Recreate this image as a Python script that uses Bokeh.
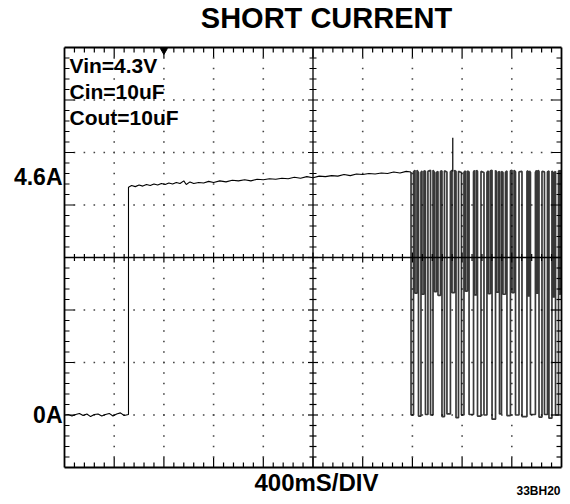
from bokeh.plotting import figure
from bokeh.models import Range1d, Label
from bokeh.embed import file_html
from bokeh.resources import INLINE

# ---------------- data (time in s, current in A) ----------------
t_pre = [0.00, 0.03, 0.06, 0.09, 0.12, 0.15, 0.18, 0.21, 0.24, 0.27, 0.30,
         0.33, 0.36, 0.39, 0.42, 0.45, 0.48, 0.515]
i_pre = [0.00, 0.01, -0.02, 0.01, 0.03, -0.01, 0.02, -0.03, 0.01, 0.02, -0.02,
         0.01, 0.03, -0.02, 0.02, 0.04, -0.01, 0.01]

t_rise = [0.515, 0.54, 0.57, 0.60, 0.63, 0.66, 0.69, 0.72, 0.75, 0.78, 0.81,
          0.84, 0.87, 0.90, 0.93, 0.96, 0.98, 1.01, 1.04, 1.08, 1.12, 1.16,
          1.20, 1.25, 1.30, 1.35, 1.40, 1.45, 1.50, 1.55, 1.60, 1.65, 1.70,
          1.75, 1.80, 1.85, 1.90, 1.95, 2.00, 2.05, 2.10, 2.15, 2.20, 2.25,
          2.30, 2.35, 2.40, 2.45, 2.50, 2.55, 2.60, 2.65, 2.70, 2.75, 2.789]
i_rise = [4.34, 4.37, 4.35, 4.38, 4.36, 4.39, 4.37, 4.40, 4.38, 4.41, 4.39,
          4.42, 4.40, 4.43, 4.41, 4.46, 4.39, 4.44, 4.41, 4.43, 4.42, 4.45,
          4.43, 4.46, 4.44, 4.47, 4.46, 4.48, 4.46, 4.49, 4.48, 4.50, 4.49,
          4.51, 4.50, 4.53, 4.51, 4.54, 4.52, 4.55, 4.54, 4.56, 4.55, 4.58,
          4.56, 4.59, 4.58, 4.60, 4.59, 4.61, 4.60, 4.63, 4.61, 4.64, 4.63]

# hiccup pulses: start time, width, bottom level, level before the pulse
pulse_t = [2.789, 2.821, 2.849, 2.877, 2.905, 2.946, 2.978, 3.006, 3.038,
           3.078, 3.119, 3.151, 3.195, 3.227, 3.256, 3.300, 3.324, 3.376,
           3.412, 3.441, 3.477, 3.501, 3.529, 3.561, 3.602, 3.630, 3.682,
           3.730, 3.750, 3.799, 3.819, 3.863, 3.899, 3.932, 3.952, 3.984]
pulse_w = [0.020, 0.016, 0.020, 0.016, 0.020, 0.020, 0.016, 0.020, 0.020,
           0.028, 0.020, 0.020, 0.020, 0.016, 0.036, 0.016, 0.028, 0.024,
           0.016, 0.028, 0.016, 0.016, 0.020, 0.028, 0.016, 0.028, 0.040,
           0.012, 0.040, 0.012, 0.024, 0.024, 0.024, 0.012, 0.024, 0.008]
pulse_low = [0.00, 2.32, -0.02, 2.30, 0.01, 0.00, 2.35, 2.28, -0.03,
             0.02, 2.33, -0.05, 0.00, 2.36, 0.01, 2.29, -0.02, 0.00,
             2.31, -0.08, 2.34, 0.02, 2.30, -0.01, 2.33, 0.00, -0.03,
             2.27, 0.01, 2.32, -0.04, 0.01, -0.06, 2.25, 0.00, 2.30]
pulse_top = [4.63, 4.66, 4.62, 4.65, 4.64, 4.66, 4.62, 4.64, 4.65,
             4.63, 4.66, 4.64, 4.62, 4.65, 4.63, 4.66, 4.64, 4.62,
             4.65, 4.66, 4.63, 4.64, 4.62, 4.65, 4.66, 4.63, 4.64,
             4.65, 4.62, 4.66, 4.64, 4.63, 4.65, 4.62, 4.64, 4.66]
spike_t = 3.125
spike_base = 4.64
spike_i = 5.28
end_t = 4.0
end_i = 4.64
trigger_t = 0.80

y_ticks = [0.0, 4.6]
y_tick_labels = ["0A", "4.6A"]
title_text = "SHORT CURRENT"
x_label = "400mS/DIV"
notes = ["Vin=4.3V", "Cin=10uF", "Cout=10uF"]
code_text = "33BH20"

# ---------------- layout ----------------
W, H = 570, 504
BOX_L, BOX_R, BOX_T, BOX_B = 64, 561, 47, 467     # graticule box in pixels
X0, X1, Y0, Y1 = 0.0, 4.0, -1.0, 7.0              # 10 div x 400 ms, 8 div x 1 A
XDIV, YDIV = 0.4, 1.0
px_x = (X1 - X0) / (BOX_R - BOX_L)
px_y = (Y1 - Y0) / (BOX_B - BOX_T)

p = figure(width=W, height=H, output_backend="svg", toolbar_location=None,
           x_range=Range1d(X0 - BOX_L * px_x, X1 + (W - BOX_R) * px_x),
           y_range=Range1d(Y0 - (H - BOX_B) * px_y, Y1 + BOX_T * px_y),
           x_axis_location=None, y_axis_location=None, min_border=0)
p.xgrid.visible = False
p.ygrid.visible = False
p.outline_line_color = None
p.background_fill_color = "white"
p.border_fill_color = "white"

# dotted graticule
dx, dy = [], []
for k in range(1, 10):
    if k == 5:
        continue
    xv = X0 + k * XDIV
    for m in range(1, 40):
        if m == 20:
            continue
        dx.append(xv); dy.append(Y0 + m * YDIV / 5)
for j in range(1, 8):
    if j == 4:
        continue
    yv = Y0 + j * YDIV
    for m in range(1, 50):
        if m == 25:
            continue
        dx.append(X0 + m * XDIV / 5); dy.append(yv)
p.scatter(dx, dy, marker="square", size=1.6, color="#444444", line_color=None)

# box and centre cross
xc, yc = (X0 + X1) / 2, (Y0 + Y1) / 2
p.segment([X0, X0, X1, X0], [Y0, Y1, Y1, Y0], [X0, X1, X1, X1], [Y1, Y1, Y0, Y0],
          color="black", line_width=1.8)
p.segment([X0, xc], [yc, Y0], [X1, xc], [yc, Y1], color="black", line_width=1.3)

# ticks
sx0, sy0, sx1, sy1 = [], [], [], []
for m in range(1, 50):
    xv = X0 + m * XDIV / 5
    L = (10 if m % 5 == 0 else 5) * px_y
    sx0 += [xv, xv]; sy0 += [Y0, Y1]; sx1 += [xv, xv]; sy1 += [Y0 + L, Y1 - L]
    h = (5 if m % 5 == 0 else 3.5) * px_y
    sx0.append(xv); sy0.append(yc - h); sx1.append(xv); sy1.append(yc + h)
for m in range(1, 40):
    yv = Y0 + m * YDIV / 5
    L = (10 if m % 5 == 0 else 5) * px_x
    sx0 += [X0, X1]; sy0 += [yv, yv]; sx1 += [X0 + L, X1 - L]; sy1 += [yv, yv]
    h = (5 if m % 5 == 0 else 3.5) * px_x
    sx0.append(xc - h); sy0.append(yv); sx1.append(xc + h); sy1.append(yv)
p.segment(sx0, sy0, sx1, sy1, color="black", line_width=1.2)

# trace: pre-short and ramp
p.line(list(t_pre) + list(t_rise), list(i_pre) + list(i_rise),
       color="black", line_width=1.1)
# trace: hiccup pulses
xs, ys = [], []
for t, w, lo, hi in zip(pulse_t, pulse_w, pulse_low, pulse_top):
    xs += [t, t, t + w, t + w]
    ys += [hi, lo, lo, hi]
xs.append(end_t); ys.append(end_i)
p.line(xs, ys, color="black", line_width=1.7, line_alpha=0.78)
p.line([spike_t, spike_t], [spike_base, spike_i], color="black", line_width=1.2)

# trigger marker
p.scatter([trigger_t], [Y1 - 3 * px_y], marker="inverted_triangle", size=7,
          color="black")

FONT = "Liberation Sans"

def lab(x, y, text, size, align="center", baseline="middle"):
    p.add_layout(Label(x=x, y=y, text=text, text_font=FONT,
                       text_font_size=f"{size}px", text_font_style="bold",
                       text_align=align, text_baseline=baseline,
                       text_color="black"))

lab(X0 + (326 - BOX_L) * px_x, Y1 + (BOX_T - 17) * px_y, title_text, 29)
for n, s in enumerate(notes):
    lab(X0 + 5 * px_x, Y1 - (18 + 26 * n) * px_y, s, 21, align="left")
lab(X0 + (316 - BOX_L) * px_x, Y0 - 15 * px_y, x_label, 24)
lab(X0 + (538 - BOX_L) * px_x, Y0 - 23 * px_y, code_text, 12)
for v, s in zip(y_ticks, y_tick_labels):
    yy = v - 0.07 if v > 0 else v
    lab(X0 - 2 * px_x, yy, s, 23, align="right")

open("out.html", "w").write(file_html(p, INLINE))
